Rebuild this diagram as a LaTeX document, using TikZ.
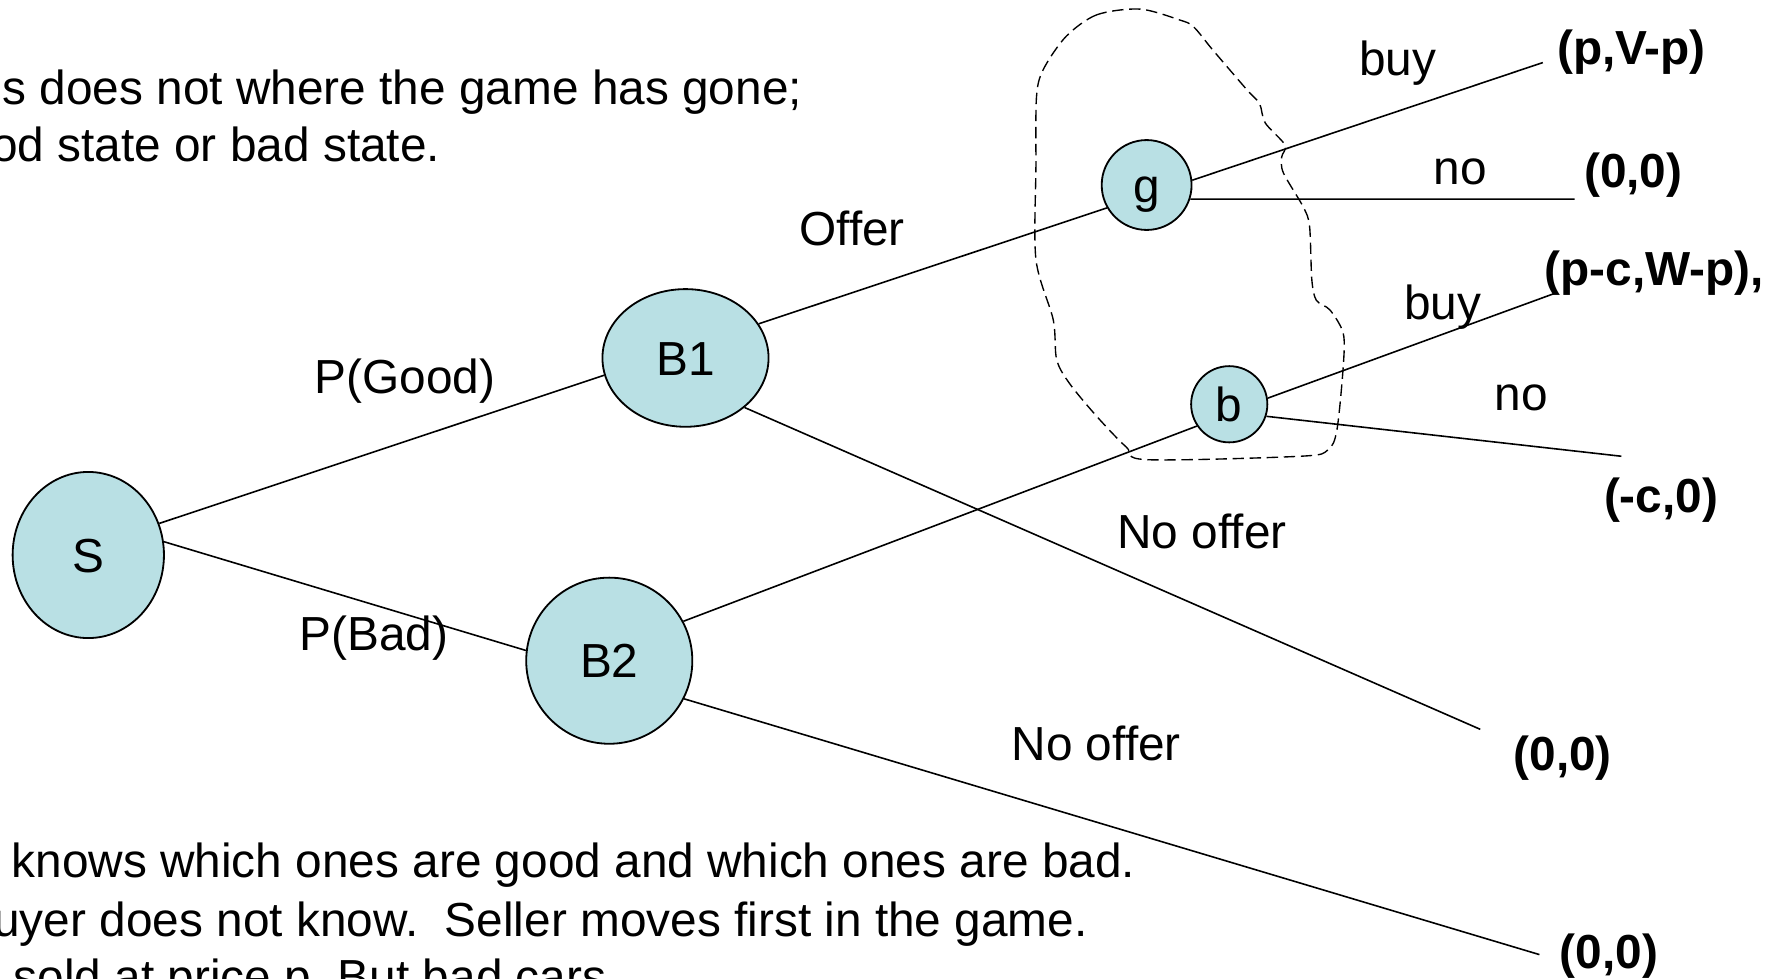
\documentclass[tikz,border=0pt]{standalone}
\usepackage{fontspec}
\setmainfont{Liberation Sans}
\usetikzlibrary{shapes.geometric}
\definecolor{nodeblue}{RGB}{185,224,228}
\frenchspacing

\begin{document}
\begin{tikzpicture}[x=1pt,y=-1pt,
		every node/.style={font=\fontsize{42}{50}\selectfont},
		player/.style={ellipse,draw,line width=1.6pt,fill=nodeblue,inner sep=0pt,text height=30pt,text depth=0pt},
		branch/.style={line width=1.4pt},
		lbl/.style={anchor=base},
		payoff/.style={anchor=base,font=\fontsize{42}{50}\selectfont\bfseries},
		note/.style={anchor=base west,inner sep=0pt}]
	\useasboundingbox (0,0) rectangle (1568,860);
	\clip (0,0) rectangle (1568,860);
	% players
	\node[player,minimum width=133pt,minimum height=146pt] (S) at (77.6,487.8) {S};
	\node[player,minimum width=146pt,minimum height=121pt] (B1) at (602.5,314.6) {B1};
	\node[player,minimum width=146pt,minimum height=146pt] (B2) at (535.5,580.7) {B2};
	\node[player,minimum size=79pt] (g) at (1007.8,162.6) {g};
	\node[player,minimum size=67pt] (b) at (1080.4,355.3) {b};
	% free ends of the branches
	\coordinate (gBuy) at (1356,55);
	\coordinate (gNo) at (1384,175);
	\coordinate (bBuy) at (1366,258);
	\coordinate (bNo) at (1425,401);
	\coordinate (B1No) at (1301,641);
	\coordinate (B2No) at (1353,839);
	\draw[branch] (S.24) -- (B1.192);
	\draw[branch] (S.10) -- (B2.173);
	\draw[branch] (B1.25) -- (g.210);
	\draw[branch] (B1.-40) -- (B1No);
	\draw[branch] (B2.28) -- (b.214);
	\draw[branch] (B2.-27) -- (B2No);
	\draw[branch] (g.6) -- (gBuy);
	\draw[branch] (g.-18) -- (gNo);
	\draw[branch] (b.9) -- (bBuy);
	\draw[branch] (b.-18) -- (bNo);
	% information set of the buyer
	\draw[dash pattern=on 10pt off 5pt,line width=1.2pt] plot[smooth cycle,tension=0.5] coordinates {
		(1002,8) (964,13) (937,32) (917,61) (911,85) (910.5,146) (910.5,228)
		(925.7,281) (928.7,316) (940,337) (964,366) (990,393) (1008,404)
		(1143,401) (1167,395.5) (1175,378) (1180.6,322) (1180.6,293) (1169,272.5)
		(1157,264) (1153,246) (1151,199) (1145.5,182) (1128,152) (1126.5,138)
		(1129.4,127.4) (1112,108) (1107,91) (1096,79) (1066,44) (1049,23.5) (1037,17.6)};
	\node[lbl] (pgood) at (356,346) {P(Good)};
	\node[lbl] (pbad) at (328.5,572) {P(Bad)};
	\node[lbl] (offer) at (749,216) {Offer};
	\node[lbl] (noofferB1) at (1056.5,482) {No offer};
	\node[lbl] (noofferB2) at (963.5,668) {No offer};
	\node[lbl] (buyg) at (1228.5,66) {buy};
	\node[lbl] (nog) at (1283.5,162) {no};
	\node[lbl] (buyb) at (1268,281) {buy};
	\node[lbl] (nob) at (1337,361) {no};
	\node[payoff] (pay1) at (1434,57) {(p,V-p)};
	\node[payoff] (pay2) at (1435.5,165) {(0,0)};
	\node[payoff] (pay3) at (1454,251) {(p-c,W-p),};
	\node[payoff] (pay4) at (1460,450) {(-c,0)};
	\node[payoff] (pay5) at (1373.5,677) {(0,0)};
	\node[payoff] (pay6) at (1414,851) {(0,0)};
	% text around the tree
	\node[note] (top1) at (2,92) {s does not where the game has gone;};
	\node[note] (top2) at (-8,142) {od state or bad state.};
	\node[note] (bot1) at (10,771) {knows which ones are good and which ones are bad.};
	\node[note] (bot2) at (-6,823) {uyer does not know.\ \ Seller moves first in the game.};
	\node[note] (bot3) at (12,873) {sold at price p. But bad cars};
\end{tikzpicture}
\end{document}
